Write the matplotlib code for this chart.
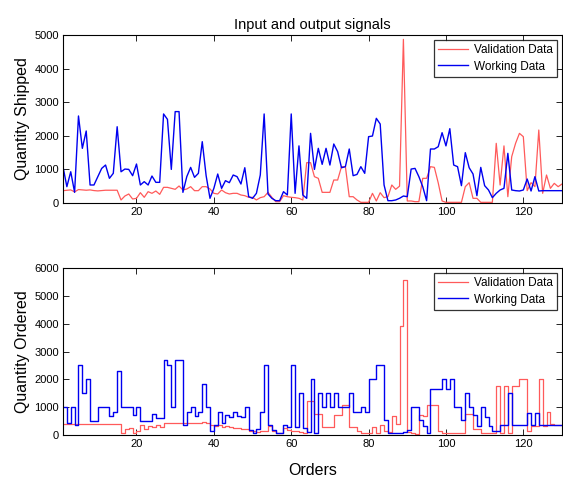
import numpy as np
import matplotlib
matplotlib.use("Agg")
import matplotlib.pyplot as plt

plt.rcParams.update({"font.family": ["Liberation Sans", "DejaVu Sans"]})

RED = "#ff5a5a"; BLUE = "#0000f0"

orders = np.arange(1, 131)

# Quantity shipped (line plot)
shipped_val = [367, 380, 390, 330, 400, 390, 380, 390, 370, 360,
               370, 380, 380, 380, 380, 90, 208, 268, 119, 139,
               307, 169, 337, 288, 357, 258, 466, 466, 436, 407,
               506, 387, 417, 486, 367, 367, 486, 486, 417, 288,
               268, 387, 307, 268, 288, 288, 238, 218, 169, 169,
               90, 159, 188, 317, 169, 40, 40, 218, 188, 169,
               159, 139, 90, 1200, 1200, 784, 734, 317, 317, 317,
               684, 684, 1081, 1081, 188, 188, 90, 20, 20, 20,
               288, 60, 307, 159, 188, 536, 407, 500, 4870, 60,
               60, 40, 40, 734, 734, 1081, 1061, 600, 60, 20,
               20, 20, 20, 20, 486, 605, 139, 139, 20, 20,
               20, 20, 1776, 536, 1700, 188, 1380, 1776, 2073, 1974,
               367, 605, 486, 2172, 288, 833, 436, 585, 486, 565]
shipped_work = [1080, 486, 930, 317, 2590, 1627, 2143, 536, 536, 784,
                1030, 1130, 734, 883, 2270, 930, 1010, 1000, 813, 1160,
                536, 635, 536, 803, 615, 615, 2650, 2490, 1000, 2720,
                2720, 317, 784, 1060, 764, 883, 1825, 813, 139, 436,
                863, 436, 665, 605, 833, 784, 565, 1050, 188, 139,
                288, 833, 2650, 268, 139, 69, 69, 337, 238, 2650,
                288, 1700, 238, 139, 2073, 1000, 1627, 1150, 1627, 1130,
                1756, 1528, 1050, 1080, 1607, 813, 850, 1081, 883, 1974,
                1994, 2520, 2351, 536, 69, 69, 90, 140, 208, 188,
                1010, 1030, 784, 486, 69, 1607, 1607, 1676, 2093, 1700,
                2212, 1130, 1081, 516, 1498, 1050, 863, 218, 1060, 516,
                387, 159, 288, 387, 436, 1478, 387, 367, 357, 387,
                714, 357, 784, 357, 367, 367, 367, 367, 367, 367]

# Quantity ordered (stairs)
ordered_val = [396, 396, 396, 396, 396, 396, 396, 396, 396, 396,
               396, 396, 396, 396, 396, 72, 216, 252, 72, 132,
               360, 216, 312, 276, 360, 276, 432, 432, 432, 432,
               432, 432, 432, 432, 432, 432, 450, 432, 360, 312,
               360, 276, 312, 276, 252, 252, 216, 216, 156, 132,
               96, 156, 156, 336, 156, 72, 72, 240, 192, 156,
               132, 96, 72, 1212, 1212, 756, 756, 300, 300, 300,
               720, 720, 1080, 1080, 276, 276, 156, 60, 60, 60,
               276, 60, 372, 156, 96, 696, 396, 3912, 5580, 96,
               60, 36, 720, 696, 1080, 1080, 1080, 156, 72, 72,
               72, 72, 72, 72, 756, 756, 216, 216, 60, 60,
               60, 60, 1776, 72, 1776, 72, 1776, 1776, 2016, 2016,
               156, 312, 312, 2016, 312, 816, 396, 372, 372, 372]
ordered_work = [1000, 432, 1000, 360, 2520, 1512, 2016, 492, 492, 1000,
                1000, 1000, 696, 816, 2316, 1000, 1000, 1000, 732, 1000,
                492, 492, 492, 756, 612, 612, 2700, 2520, 1000, 2700,
                2700, 360, 816, 1000, 696, 816, 1836, 1000, 156, 360,
                816, 420, 732, 636, 816, 696, 636, 1000, 180, 60,
                216, 816, 2520, 372, 180, 72, 72, 360, 276, 2520,
                276, 1512, 240, 96, 2016, 60, 1512, 1000, 1512, 1000,
                1512, 1000, 1000, 1000, 1512, 816, 816, 1000, 816, 2016,
                2016, 2520, 2520, 540, 60, 60, 60, 60, 120, 180,
                1000, 1000, 540, 312, 60, 1656, 1656, 1656, 2016, 1656,
                2016, 1000, 1000, 540, 1512, 1000, 720, 312, 1000, 636,
                312, 156, 156, 372, 372, 1512, 372, 372, 372, 372,
                780, 372, 780, 372, 372, 372, 372, 372, 372, 372]

W, H = 563, 478
fig = plt.figure(figsize=(W / 100, H / 100), dpi=100)
ax1 = fig.add_axes([63 / W, (H - 203) / H, 499 / W, 168 / H])
ax2 = fig.add_axes([63 / W, (H - 435) / H, 499 / W, 167 / H])

ax1.plot(orders, shipped_val, color=RED, lw=0.9, label="Validation Data")
ax1.plot(orders, shipped_work, color=BLUE, lw=1.0, label="Working Data")
ax2.step(orders, ordered_val, where="post", color=RED, lw=0.9, label="Validation Data")
ax2.step(orders, ordered_work, where="post", color=BLUE, lw=1.0, label="Working Data")

for ax, top, lab in ((ax1, 5000, "Quantity Shipped"), (ax2, 6000, "Quantity Ordered")):
    ax.set_xlim(1, 130)
    ax.set_ylim(0, top)
    ax.set_xticks(range(20, 121, 20))
    ax.set_yticks(range(0, top + 1, 1000))
    ax.tick_params(direction="in", top=True, right=True, labelsize=8, length=4, width=0.6, pad=3)
    for s in ax.spines.values():
        s.set_linewidth(0.8)
    ax.set_ylabel(lab, fontsize=11.5, labelpad=3)
    leg = ax.legend(loc="upper right", fontsize=8.5, frameon=True, fancybox=False,
                    borderaxespad=0.4, handlelength=2.6, handletextpad=0.5,
                    borderpad=0.35, labelspacing=0.4)
    leg.get_frame().set_edgecolor("black")
    leg.get_frame().set_linewidth(0.9)

ax1.set_title("Input and output signals", fontsize=10.5, pad=4)
ax2.set_xlabel("Orders", fontsize=11.5, labelpad=10)

fig.savefig("out.png", dpi=100)
